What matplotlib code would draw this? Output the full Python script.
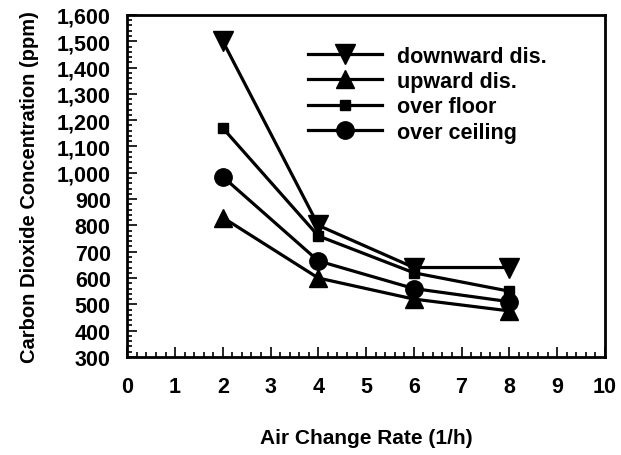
import matplotlib
matplotlib.use("Agg")
import matplotlib.pyplot as plt
from matplotlib.ticker import MultipleLocator, FuncFormatter

plt.rcParams.update({
    "font.family": "Liberation Sans",
    "font.weight": "bold",
    "axes.labelweight": "bold",
    "font.size": 15,
})

air_change = [2, 4, 6, 8]
downward = [1500, 800, 640, 640]
upward = [830, 600, 520, 475]
over_floor = [1170, 760, 620, 550]
over_ceiling = [985, 665, 560, 510]

series = [
    ("downward dis.", downward, "v", 14),
    ("upward dis.", upward, "^", 13),
    ("over floor", over_floor, "s", 6.5),
    ("over ceiling", over_ceiling, "o", 12.5),
]

fig = plt.figure(figsize=(6.21, 4.56), dpi=100)
ax = fig.add_axes([0.205, 0.215, 0.769, 0.75])

for label, vals, marker, ms in series:
    ax.plot(air_change, vals, color="black", lw=2.3, marker=marker, ms=ms,
            label=label)

ax.set_xlim(0, 10)
ax.set_ylim(300, 1600)
ax.xaxis.set_major_locator(MultipleLocator(1))
ax.xaxis.set_minor_locator(MultipleLocator(0.2))
ax.yaxis.set_major_locator(MultipleLocator(100))
ax.yaxis.set_minor_locator(MultipleLocator(20))
ax.yaxis.set_major_formatter(FuncFormatter(lambda v, p: f"{int(v):,}"))
ax.tick_params(which="both", direction="in", top=False, right=False,
               width=1.2)
ax.tick_params(which="major", length=7, labelsize=15.5)
ax.tick_params(axis="y", which="major", pad=12)
ax.tick_params(axis="x", which="major", pad=14)
ax.tick_params(which="minor", length=3.5)
for s in ax.spines.values():
    s.set_linewidth(2)

ax.set_xlabel("Air Change Rate (1/h)", fontsize=15, labelpad=22)
ax.set_ylabel("Carbon Dioxide Concentration (ppm)", fontsize=14.5,
              labelpad=13)

ax.legend(loc="upper right", bbox_to_anchor=(0.918, 0.967), frameon=False,
          handlelength=3.4, handletextpad=0.7, labelspacing=0.2,
          fontsize=15.5)

fig.savefig("out.png", dpi=100)
